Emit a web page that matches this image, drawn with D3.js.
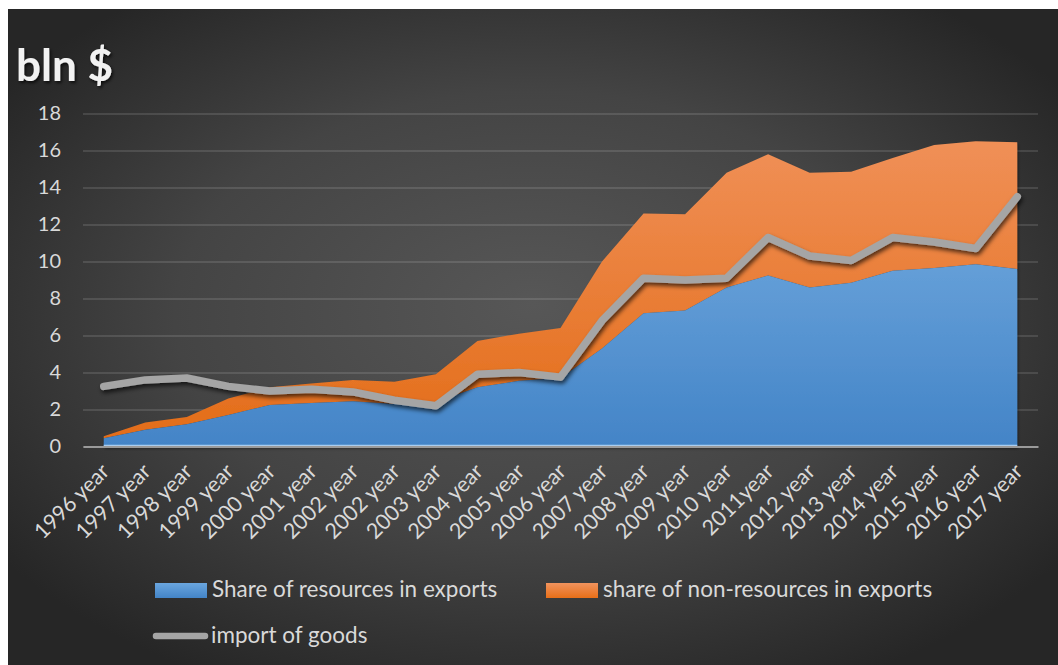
<!DOCTYPE html>
<html>
<head>
<meta charset="utf-8">
<script src="https://cdn.jsdelivr.net/npm/d3@7"></script>
<style>
  html, body { margin: 0; padding: 0; background: #ffffff; }
  svg { display: block; }
  text { font-family: Lato, "Noto Sans", sans-serif; }
</style>
</head>
<body>
<svg id="chart" width="1058" height="665"></svg>
<script>
// ---- data ----
const categories = ["1996 year","1997 year","1998 year","1999 year","2000 year","2001 year","2002 year","2002 year","2003 year","2004 year","2005 year","2006 year","2007 year","2008 year","2009 year","2010 year","2011year","2012 year","2013 year","2014 year","2015 year","2016 year","2017 year"];
const resources    = [0.45,0.9,1.2,1.7,2.25,2.35,2.45,2.3,2.4,3.2,3.55,3.7,5.3,7.2,7.35,8.6,9.25,8.6,8.85,9.5,9.65,9.85,9.6];
const nonResources = [0.1,0.4,0.4,0.9,0.95,1.05,1.15,1.2,1.5,2.5,2.55,2.7,4.7,5.4,5.2,6.2,6.55,6.2,6.0,6.1,6.65,6.65,6.85];
const imports      = [3.25,3.6,3.7,3.25,3.0,3.1,2.95,2.5,2.2,3.9,4.0,3.75,6.8,9.1,9.0,9.1,11.3,10.3,10.05,11.3,11.05,10.7,13.5];
const yTicks = [0,2,4,6,8,10,12,14,16,18];
const seriesNames = ["Share of resources in exports","share of non-resources in exports","import of goods"];
const title = "bln $";

// ---- layout ----
const W = 1058, H = 665;
const plot = {left: 83, right: 1038, top: 113.5, bottom: 446.5};
const svg = d3.select("#chart");
const defs = svg.append("defs");

const bg = defs.append("radialGradient").attr("id","bg")
  .attr("cx","50%").attr("cy","48%").attr("r","62%").attr("fx","50%").attr("fy","45%");
bg.append("stop").attr("offset","0%").attr("stop-color","#575757");
bg.append("stop").attr("offset","55%").attr("stop-color","#444444");
bg.append("stop").attr("offset","100%").attr("stop-color","#262626");

const gBlue = defs.append("linearGradient").attr("id","gBlue")
  .attr("gradientUnits","userSpaceOnUse").attr("x1",0).attr("x2",0).attr("y1",plot.top).attr("y2",plot.bottom);
gBlue.append("stop").attr("offset","0%").attr("stop-color","#80b5e6");
gBlue.append("stop").attr("offset","100%").attr("stop-color","#4384c7");

const gOrange = defs.append("linearGradient").attr("id","gOrange")
  .attr("gradientUnits","userSpaceOnUse").attr("x1",0).attr("x2",0).attr("y1",plot.top).attr("y2",plot.bottom);
gOrange.append("stop").attr("offset","0%").attr("stop-color","#f1935d");
gOrange.append("stop").attr("offset","100%").attr("stop-color","#e36c17");

const shadow = defs.append("filter").attr("id","shadow").attr("x","-10%").attr("y","-10%").attr("width","120%").attr("height","130%");
shadow.append("feDropShadow").attr("dx",1.5).attr("dy",3).attr("stdDeviation",2.2)
  .attr("flood-color","#000").attr("flood-opacity",0.65);
const shadowSoft = defs.append("filter").attr("id","shadowSoft").attr("x","-10%").attr("y","-10%").attr("width","120%").attr("height","130%");
shadowSoft.append("feDropShadow").attr("dx",1).attr("dy",2).attr("stdDeviation",1.5)
  .attr("flood-color","#000").attr("flood-opacity",0.45);
const textShadow = defs.append("filter").attr("id","textShadow").attr("x","-10%").attr("y","-20%").attr("width","130%").attr("height","150%");
textShadow.append("feDropShadow").attr("dx",1.5).attr("dy",2).attr("stdDeviation",1.5)
  .attr("flood-color","#000").attr("flood-opacity",0.7);

svg.append("rect").attr("x",8).attr("y",9).attr("width",W-8).attr("height",H-9).attr("fill","url(#bg)");

// ---- scales ----
const idx = categories.map((d,i) => i);
const x = d3.scalePoint().domain(idx).range([plot.left, plot.right]).padding(0.5);
const y = d3.scaleLinear().domain([0,18]).range([plot.bottom, plot.top]);

// gridlines + y labels
const yAxis = d3.axisLeft(y).tickValues(yTicks).tickSizeInner(-(plot.right-plot.left)).tickSizeOuter(0).tickPadding(22);
const gy = svg.append("g").attr("transform",`translate(${plot.left},0)`).call(yAxis);
gy.select(".domain").remove();
gy.selectAll(".tick line").attr("stroke","#ffffff").attr("stroke-opacity",0.16).attr("stroke-width",1.3);
gy.selectAll(".tick text").attr("fill","#d9d9d9").style("font-size","20px").style("font-family","Lato, sans-serif");

// ---- stacked areas ----
const table = idx.map(i => ({i, res: resources[i], non: nonResources[i]}));
const stack = d3.stack().keys(["res","non"]);
const layers = stack(table);
const area = d3.area().x(d => x(d.data.i)).y0(d => y(d[0])).y1(d => y(d[1]));
const fills = ["url(#gBlue)","url(#gOrange)"];
svg.append("g").selectAll("path").data(layers.slice().reverse()).join("path")
  .attr("d", area)
  .attr("fill", (d) => fills[d.index])
  .attr("filter","url(#shadowSoft)");

// light line on the area bottom
svg.append("line").attr("x1",x(0)).attr("x2",x(idx.length-1))
  .attr("y1",y(0)-1.2).attr("y2",y(0)-1.2).attr("stroke","#a9cdf0").attr("stroke-width",1.2);

// x axis
const xAxis = d3.axisBottom(x).tickSize(0).tickSizeOuter(0).tickFormat(i => categories[i]);
const gx = svg.append("g").attr("transform",`translate(0,${plot.bottom})`).call(xAxis);
gx.select(".domain").attr("stroke","#9a9a9a").attr("stroke-width",2.2);
gx.selectAll(".tick text")
  .attr("fill","#d9d9d9").style("font-size","21.5px").style("font-family","Lato, sans-serif")
  .attr("text-anchor","end")
  .attr("transform","translate(1,21) rotate(-45)")
  .attr("x",0).attr("y",0).attr("dy","0.35em");

// ---- import line ----
const line = d3.line().x((d,i) => x(i)).y(d => y(d));
svg.append("path").datum(imports)
  .attr("d", line)
  .attr("fill","none").attr("stroke","#a5a5a5").attr("stroke-width",7.5)
  .attr("stroke-linejoin","round").attr("stroke-linecap","round")
  .attr("filter","url(#shadow)");

// ---- title ----
svg.append("text").attr("x",16).attr("y",81).text(title)
  .attr("fill","#f2f2f2").style("font-size","44px").style("font-weight","bold")
  .attr("filter","url(#textShadow)");

// ---- legend ----
const lgBlue = defs.append("linearGradient").attr("id","lgBlue").attr("x1",0).attr("x2",0).attr("y1",0).attr("y2",1);
lgBlue.append("stop").attr("offset","0%").attr("stop-color","#6aa6df");
lgBlue.append("stop").attr("offset","100%").attr("stop-color","#4384c7");
const lgOr = defs.append("linearGradient").attr("id","lgOr").attr("x1",0).attr("x2",0).attr("y1",0).attr("y2",1);
lgOr.append("stop").attr("offset","0%").attr("stop-color","#f1935d");
lgOr.append("stop").attr("offset","100%").attr("stop-color","#e86f18");
const lg = svg.append("g").style("font-size","22.5px").attr("fill","#d9d9d9");
lg.append("rect").attr("x",155).attr("y",583).attr("width",52).attr("height",15).attr("fill","url(#lgBlue)");
lg.append("text").attr("x",212).attr("y",597).text(seriesNames[0]).attr("fill","#d9d9d9");
lg.append("rect").attr("x",546).attr("y",583).attr("width",52).attr("height",15).attr("fill","url(#lgOr)");
lg.append("text").attr("x",603).attr("y",597).text(seriesNames[1]).attr("fill","#d9d9d9");
lg.append("line").attr("x1",156).attr("x2",205).attr("y1",636).attr("y2",636)
  .attr("stroke","#a5a5a5").attr("stroke-width",6.5).attr("stroke-linecap","round");
lg.append("text").attr("x",211).attr("y",643).text(seriesNames[2]).attr("fill","#d9d9d9");
</script>
</body>
</html>
